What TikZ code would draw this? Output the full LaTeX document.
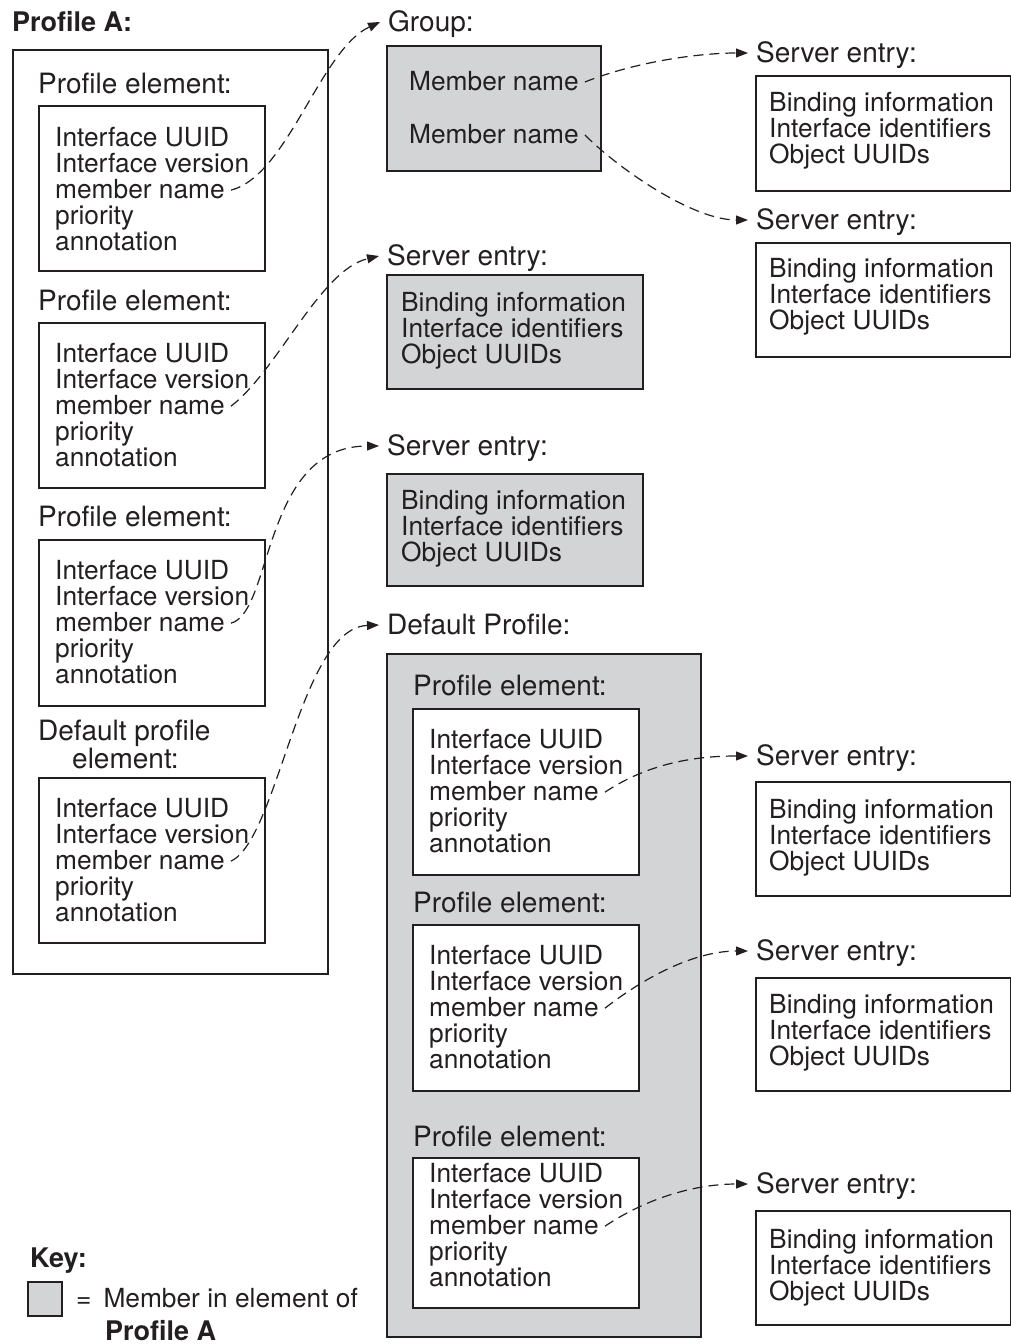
\documentclass[tikz,border=0pt]{standalone}
\usepackage{fontspec}
\setmainfont{TeX Gyre Heros}
\usetikzlibrary{arrows.meta}
\definecolor{ink}{RGB}{35,31,32}
\definecolor{shade}{RGB}{211,212,214}
\newcommand{\cfont}{\fontsize{26.3}{26}\selectfont}
\newcommand{\lfont}{\fontsize{28}{28}\selectfont}
\newcommand{\bfnt}{\fontsize{27}{27}\selectfont\bfseries}
\tikzset{
  wbox/.style={draw=ink, line width=1.6pt, fill=white, anchor=north west, inner sep=0pt},
  gbox/.style={draw=ink, line width=1.6pt, fill=shade, anchor=north west, inner sep=0pt},
  ln/.style={anchor=base west, inner xsep=6pt, inner ysep=0pt, text height=16pt, text depth=0pt, font=\cfont, text=ink},
  lbl/.style={anchor=base west, inner xsep=8pt, inner ysep=0pt, text height=18pt, text depth=0pt, font=\lfont, text=ink},
  ttl/.style={anchor=base west, inner sep=0pt, font=\bfnt, text=ink},
  conn/.style={draw=ink, line width=1.2pt, dash pattern=on 10pt off 6pt, -{Triangle[length=12pt,width=9pt]}},
}
% five-line profile element text: #1 prefix, #2 text x, #3 first baseline
\newcommand{\fivelines}[3]{%
  \node[ln] (#1a) at (#2-6,#3) {Interface UUID};
  \node[ln] (#1b) at (#2-6,#3+26.1) {Interface version};
  \node[ln] (#1m) at (#2-6,#3+52.2) {member name};
  \node[ln] (#1d) at (#2-6,#3+78.3) {priority};
  \node[ln] (#1e) at (#2-6,#3+104.4) {annotation};
}
% three-line server entry text: #1 prefix, #2 text x, #3 first baseline
\newcommand{\threelines}[3]{%
  \node[ln] (#1a) at (#2-6,#3) {Binding information};
  \node[ln] (#1b) at (#2-6,#3+26.3) {Interface identifiers};
  \node[ln] (#1c) at (#2-6,#3+52.6) {Object UUIDs};
}
\begin{document}
\begin{tikzpicture}[x=1pt,y=-1pt]
\useasboundingbox (0,0) rectangle (1011,1344);

% ---------- Profile A ----------
\node[ttl] (pAt) at (12,31) {Profile A:};
\node[wbox, minimum width=315pt, minimum height=924pt] (pA) at (12,49) {};

\node[lbl] (e1l) at (38-8,93) {Profile element:};
\node[wbox, minimum width=226pt, minimum height=165pt] (e1) at (38,105) {};
\fivelines{e1}{55}{146}

\node[lbl] (e2l) at (38-8,310) {Profile element:};
\node[wbox, minimum width=226pt, minimum height=165pt] (e2) at (38,322) {};
\fivelines{e2}{55}{362}

\node[lbl] (e3l) at (38-8,526) {Profile element:};
\node[wbox, minimum width=226pt, minimum height=166pt] (e3) at (38,539) {};
\fivelines{e3}{55}{579}

\node[lbl] (e4l) at (38-8,740) {Default profile};
\node[lbl] (e4l2) at (72-8,768) {element:};
\node[wbox, minimum width=226pt, minimum height=165pt] (e4) at (38,777) {};
\fivelines{e4}{55}{817}

% ---------- Group ----------
\node[lbl] (grpl) at (388-8,31) {Group:};
\node[gbox, minimum width=214pt, minimum height=125pt] (grp) at (386,45) {};
\node[ln] (gm1) at (409-6,90) {Member name};
\node[ln] (gm2) at (409-6,143) {Member name};

% ---------- shaded server entries ----------
\node[lbl] (s1l) at (387-8,265) {Server entry:};
\node[gbox, minimum width=256pt, minimum height=114pt] (s1) at (386,274) {};
\threelines{s1}{401}{311}

\node[lbl] (s2l) at (387-8,455) {Server entry:};
\node[gbox, minimum width=256pt, minimum height=112pt] (s2) at (386,473) {};
\threelines{s2}{401}{509}

% ---------- Default Profile ----------
\node[lbl] (dpl) at (387-8,634) {Default Profile:};
\node[gbox, minimum width=314pt, minimum height=683pt] (dp) at (386,653) {};

\node[lbl] (d1l) at (413-8,695) {Profile element:};
\node[wbox, minimum width=226pt, minimum height=166pt] (d1) at (412,708) {};
\fivelines{d1}{429}{748}

\node[lbl] (d2l) at (413-8,912) {Profile element:};
\node[wbox, minimum width=226pt, minimum height=166pt] (d2) at (412,924) {};
\fivelines{d2}{429}{964}

\node[lbl] (d3l) at (413-8,1146) {Profile element:};
\node[wbox, minimum width=226pt, minimum height=150pt] (d3) at (412,1157) {};
\fivelines{d3}{429}{1182}

% ---------- right server entries ----------
\node[lbl] (r1l) at (756-8,62) {Server entry:};
\node[wbox, minimum width=255pt, minimum height=115pt] (r1) at (755,75) {};
\threelines{r1}{769}{111}

\node[lbl] (r2l) at (756-8,229) {Server entry:};
\node[wbox, minimum width=255pt, minimum height=114pt] (r2) at (755,242) {};
\threelines{r2}{769}{277}

\node[lbl] (r3l) at (756-8,765) {Server entry:};
\node[wbox, minimum width=255pt, minimum height=114pt] (r3) at (755,781) {};
\threelines{r3}{769}{818}

\node[lbl] (r4l) at (756-8,960) {Server entry:};
\node[wbox, minimum width=255pt, minimum height=113pt] (r4) at (755,977) {};
\threelines{r4}{769}{1013}

\node[lbl] (r5l) at (756-8,1193) {Server entry:};
\node[wbox, minimum width=255pt, minimum height=114pt] (r5) at (755,1210) {};
\threelines{r5}{769}{1248}

% ---------- Key ----------
\node[ttl] (keyt) at (30,1267) {Key:};
\node[gbox, minimum width=34pt, minimum height=34pt] (keyb) at (27,1281) {};
\node[anchor=base west, inner sep=0pt, font=\cfont, text=ink] (keytx) at (76,1307) {=\hspace{12pt}Member in element of};
\node[ttl] (keyp) at (105,1340) {Profile A};

% ---------- connectors ----------
\draw[conn] (e1m.east) .. controls +(57,-15) and +(-60,28) .. (grpl.west);
\draw[conn] (e2m.east) .. controls +(47,-36) and +(-59,14) .. (s1l.west);
\draw[conn] (e3m.east) .. controls +(42,-11) and +(-117,0) .. (s2l.west);
\draw[conn] (e4m.east) .. controls +(47,-22) and +(-79,3) .. (dpl.west);
\draw[conn] (gm1.east) .. controls +(50,-20) and +(-50,0) .. (r1l.west);
\draw[conn] (gm2.east) .. controls +(35,35) and +(-55,0) .. (r2l.west);
\draw[conn] (d1m.east) .. controls +(45,-30) and +(-50,0) .. (r3l.west);
\draw[conn] (d2m.east) .. controls +(45,-35) and +(-50,0) .. (r4l.west);
\draw[conn] (d3m.east) .. controls +(45,-30) and +(-50,0) .. (r5l.west);
\end{tikzpicture}
\end{document}
